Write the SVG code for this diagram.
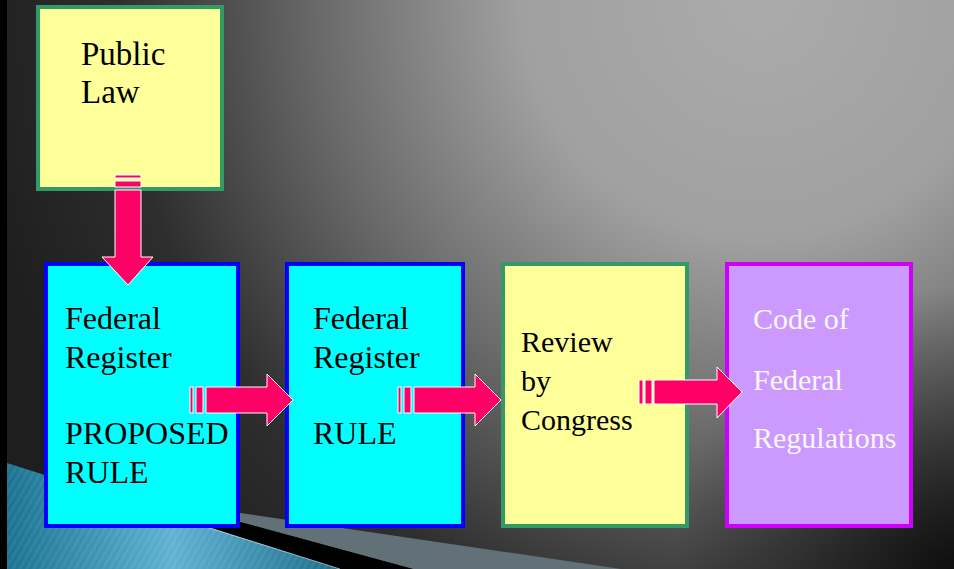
<svg xmlns="http://www.w3.org/2000/svg" width="954" height="569" viewBox="0 0 954 569">
<defs>
<radialGradient id="bg" gradientUnits="userSpaceOnUse" cx="760" cy="0" r="800">
<stop offset="0" stop-color="#ababab"/>
<stop offset="0.3" stop-color="#a0a0a0"/>
<stop offset="0.55" stop-color="#6a6a6a"/>
<stop offset="0.8" stop-color="#2e2e2e"/>
<stop offset="1" stop-color="#1e1e1e"/>
</radialGradient>
<radialGradient id="corner" gradientUnits="userSpaceOnUse" cx="954" cy="569" r="280">
<stop offset="0" stop-color="#000" stop-opacity="0.75"/>
<stop offset="1" stop-color="#000" stop-opacity="0"/>
</radialGradient>
<linearGradient id="teal" gradientUnits="userSpaceOnUse" x1="7" y1="0" x2="340" y2="0">
<stop offset="0" stop-color="#1a7391"/>
<stop offset="0.5" stop-color="#5fb2d2"/>
<stop offset="1" stop-color="#1a6d8a"/>
</linearGradient>
<pattern id="stripes" width="6" height="6" patternUnits="userSpaceOnUse" patternTransform="rotate(30)">
<rect width="3" height="6" fill="#fff" fill-opacity="0.06"/>
</pattern>
<style>
.arrow{fill:#ff0066;stroke:#ffffff;stroke-width:1}
text{font-family:'Times New Roman',Tinos,'Liberation Serif','Noto Serif','DejaVu Serif',Georgia,serif}
.t{fill:#000}
.w{fill:#f8f8f8}
.yel{fill:#ffff99;stroke:#339966;stroke-width:4}
.cyan{fill:#00ffff;stroke:#0000ff;stroke-width:4}
.pur{fill:#cc99ff;stroke:#cc00ff;stroke-width:4}
</style>
</defs>
<g id="background">
<rect width="954" height="569" fill="url(#bg)"/>
<rect width="954" height="569" fill="url(#corner)"/>
<rect x="0" y="0" width="7" height="569" fill="#000"/>
<polygon points="200,507 621,569 413,569 200,511" fill="#627178"/>
<polygon points="44,480 240,522 413,569 44,569" fill="#000"/>
<polygon points="7,463 340,569 7,569" fill="url(#teal)"/>
<polygon points="7,463 340,569 7,569" fill="url(#stripes)"/>
<line x1="200" y1="525" x2="340" y2="569" stroke="#d8eef5" stroke-opacity="0.6" stroke-width="1"/>
</g>
<g id="node-public-law">
<rect class="yel" x="38" y="7" width="184" height="182"/>
<text class="t" font-size="33"><tspan x="81" y="65">Public</tspan><tspan x="81" y="103">Law</tspan></text>
</g>
<g id="node-proposed-rule">
<rect class="cyan" x="46" y="264" width="192" height="262"/>
<text class="t" font-size="32"><tspan x="65" y="329">Federal</tspan><tspan x="65" y="368">Register</tspan><tspan x="65" y="444">PROPOSED</tspan><tspan x="65" y="483">RULE</tspan></text>
</g>
<g id="node-rule">
<rect class="cyan" x="287" y="264" width="176" height="262"/>
<text class="t" font-size="32"><tspan x="313" y="329">Federal</tspan><tspan x="313" y="368">Register</tspan><tspan x="313" y="444">RULE</tspan></text>
</g>
<g id="node-review">
<rect class="yel" x="503" y="264" width="184" height="262"/>
<text class="t" font-size="30"><tspan x="521" y="352">Review</tspan><tspan x="521" y="391">by</tspan><tspan x="521" y="430">Congress</tspan></text>
</g>
<g id="node-cfr">
<rect class="pur" x="727" y="264" width="184" height="262"/>
<text class="w" font-size="30"><tspan x="753" y="329">Code of</tspan><tspan x="753" y="390">Federal</tspan><tspan x="753" y="448">Regulations</tspan></text>
</g>
<g id="connectors">
<rect class="arrow" x="115" y="175" width="26" height="3"/>
<rect class="arrow" x="115" y="181" width="26" height="6"/>
<polygon class="arrow" points="115,190 141,190 141,257 153,257 128,285 102,257 115,257"/>
<rect class="arrow" x="190" y="387" width="3" height="26"/>
<rect class="arrow" x="196" y="387" width="7" height="26"/>
<polygon class="arrow" points="206,387 267,387 267,374 293,400 267,426 267,413 206,413"/>
<rect class="arrow" x="398" y="387" width="3" height="26"/>
<rect class="arrow" x="404" y="387" width="7" height="26"/>
<polygon class="arrow" points="414,387 475,387 475,374 501,400 475,426 475,413 414,413"/>
<rect class="arrow" x="639" y="380" width="4" height="24"/>
<rect class="arrow" x="645" y="380" width="7" height="24"/>
<polygon class="arrow" points="654,380 717,380 717,367 742,392 717,418 717,404 654,404"/>
</g>
</svg>
